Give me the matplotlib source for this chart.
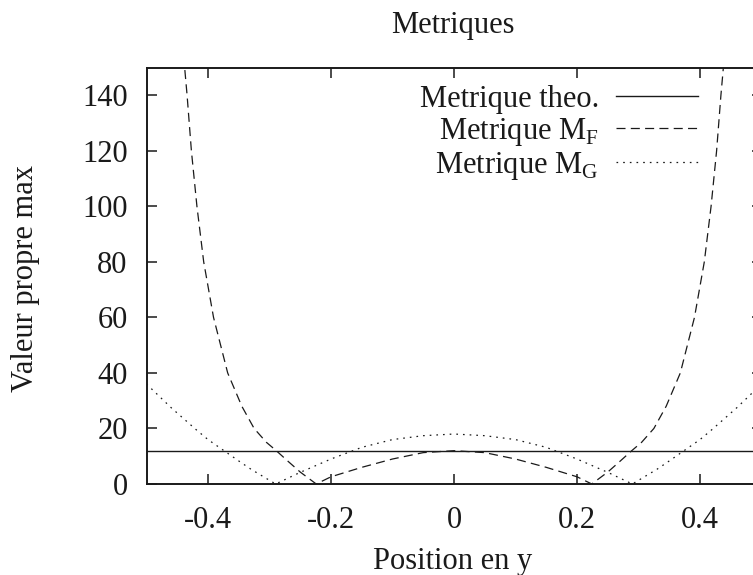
import matplotlib
matplotlib.use("Agg")
import matplotlib.pyplot as plt
from matplotlib.ticker import FixedLocator, FixedFormatter

plt.rcParams['font.family'] = ['Liberation Serif', 'DejaVu Serif']
plt.rcParams['mathtext.fontset'] = 'custom'
plt.rcParams['mathtext.rm'] = 'Liberation Serif'
plt.rcParams['lines.scale_dashes'] = False

# ---- data ----
theo_x = [-0.5, 0.5]
theo_y = [12, 12]

mf_x = [-0.50, -0.47, -0.45, -0.438, -0.434, -0.427, -0.418, -0.407, -0.391,
        -0.368, -0.345, -0.325, -0.305, -0.289, -0.27, -0.25, -0.224,
        -0.2, -0.15, -0.1, -0.05, 0.0, 0.05, 0.1, 0.15, 0.2,
        0.224, 0.25, 0.27, 0.289, 0.305, 0.325, 0.345, 0.368, 0.391,
        0.407, 0.418, 0.427, 0.434, 0.438, 0.45, 0.47, 0.50]
mf_y = [330, 230, 172, 150, 140, 120, 100, 80, 60,
        40, 28, 20, 15, 12, 8.2, 4.3, 0,
        2.6, 6.0, 9.0, 11.3, 12.0, 11.3, 9.0, 6.0, 2.6,
        0, 4.3, 8.2, 12, 15, 20, 28, 40, 60,
        80, 100, 120, 140, 150, 172, 230, 330]

mg_x = [-0.50, -0.46, -0.42, -0.40, -0.374, -0.35, -0.33, -0.29,
        -0.25, -0.2, -0.15, -0.1, -0.05, 0.0, 0.05, 0.1, 0.15, 0.2, 0.25,
        0.29, 0.33, 0.35, 0.374, 0.40, 0.42, 0.46, 0.50]
mg_y = [36, 27.5, 19.7, 16, 12, 8.3, 5.3, 0,
        4.2, 9.0, 13.2, 16.0, 17.4, 18.0, 17.4, 16.0, 13.2, 9.0, 4.2,
        0, 5.3, 8.3, 12, 16, 19.7, 27.5, 36]

labels = ['Metrique theo.', r'Metrique M$_\mathregular{F}$', r'Metrique M$_\mathregular{G}$']
x_ticks = [-0.4, -0.2, 0, 0.2, 0.4]
x_tick_labels = ['-0.4', '-0.2', '0', '0.2', '0.4']
y_ticks = [0, 20, 40, 60, 80, 100, 120, 140]
y_tick_labels = ['0', '20', '40', '60', '80', '100', '120', '140']

W, H = 753, 575
FS = 22
fig = plt.figure(figsize=(W / 100, H / 100), dpi=100)
ax = fig.add_axes([146.5 / W, (H - 484) / H, 615 / W, (484 - 67.5) / H])

ink = '#1a1a1a'
ax.plot(theo_x, theo_y, color=ink, lw=1.0, ls='-', label=labels[0])
ax.plot(mf_x, mf_y, color=ink, lw=0.9, ls=(0, (6.5, 3.8)), label=labels[1])
ax.plot(mg_x, mg_y, color=ink, lw=0.9, ls=(0, (1.2, 3.6)), label=labels[2])

ax.set_xlim(-0.5, 0.5)
ax.set_ylim(0, 150)
ax.xaxis.set_major_locator(FixedLocator(x_ticks))
ax.xaxis.set_major_formatter(FixedFormatter(x_tick_labels))
ax.yaxis.set_major_locator(FixedLocator(y_ticks))
ax.yaxis.set_major_formatter(FixedFormatter(y_tick_labels))
ax.tick_params(direction='in', length=7.2, width=1.1, top=True, right=True,
               labelsize=FS, colors=ink)
ax.tick_params(axis='x', pad=16.0)
ax.tick_params(axis='y', pad=13.5)
for s in ax.spines.values():
    s.set_linewidth(1.4)
    s.set_color(ink)

leg = ax.legend(loc='upper right', bbox_to_anchor=((698.3 - 146.5) / 615, (484 - 85) / (484 - 67.5)),
                frameon=False, markerfirst=False, fontsize=FS, borderpad=0, borderaxespad=0,
                handlelength=2.7, handletextpad=0.55, labelspacing=0.06)
for t in leg.get_texts():
    t.set_color(ink)

fig.text(452.5 / W, (H - 33.3) / H, 'Metriques', ha='center', va='baseline', fontsize=FS, color=ink)
fig.text(452.5 / W, (H - 569.3) / H, 'Position en y', ha='center', va='baseline', fontsize=FS, color=ink)
fig.text(33 / W, (H - 278) / H, 'Valeur propre max', ha='center', va='baseline', rotation=90,
         rotation_mode='anchor', fontsize=FS, color=ink)

fig.savefig('out.png', dpi=100)
